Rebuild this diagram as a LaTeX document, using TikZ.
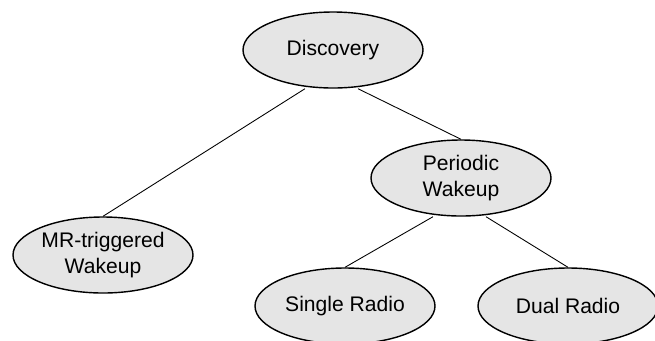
\documentclass[tikz,border=0pt]{standalone}
\usepackage{fontspec}
\setmainfont{Liberation Sans}
\usepackage{tikz}
\usetikzlibrary{shapes.geometric}
\tikzset{
	topic/.style={ellipse, draw=black, line width=.8pt, fill=gray!20, minimum width=3.6cm, minimum height=1.52cm, inner sep=0pt, align=center, font=\fontsize{12}{15.3}\selectfont},
	branch/.style={line width=.5pt},
}

\begin{document}
\begin{tikzpicture}
	\useasboundingbox (0,0) rectangle (13.1,-6.8);
	\clip (0,0) rectangle (13.1,-6.8);
	\node[topic] (disc) at (6.66,-1.0) {Discovery};
	\node[topic] (periodic) at (9.22,-3.56) {Periodic\\Wakeup};
	\node[topic] (mrwake) at (2.06,-5.1) {MR-triggered\\Wakeup};
	\node[topic] (single) at (6.9,-6.12) {Single Radio};
	\node[topic] (dual) at (11.36,-6.12) {Dual Radio};
	% tree edges
	\draw[branch] ([xshift=-.56cm]disc.south) -- (mrwake.north);
	\draw[branch] ([xshift=.5cm]disc.south) -- (periodic.north);
	\draw[branch] ([xshift=-.56cm]periodic.south) -- (single.north);
	\draw[branch] ([xshift=.5cm]periodic.south) -- (dual.north);
\end{tikzpicture}
\end{document}
